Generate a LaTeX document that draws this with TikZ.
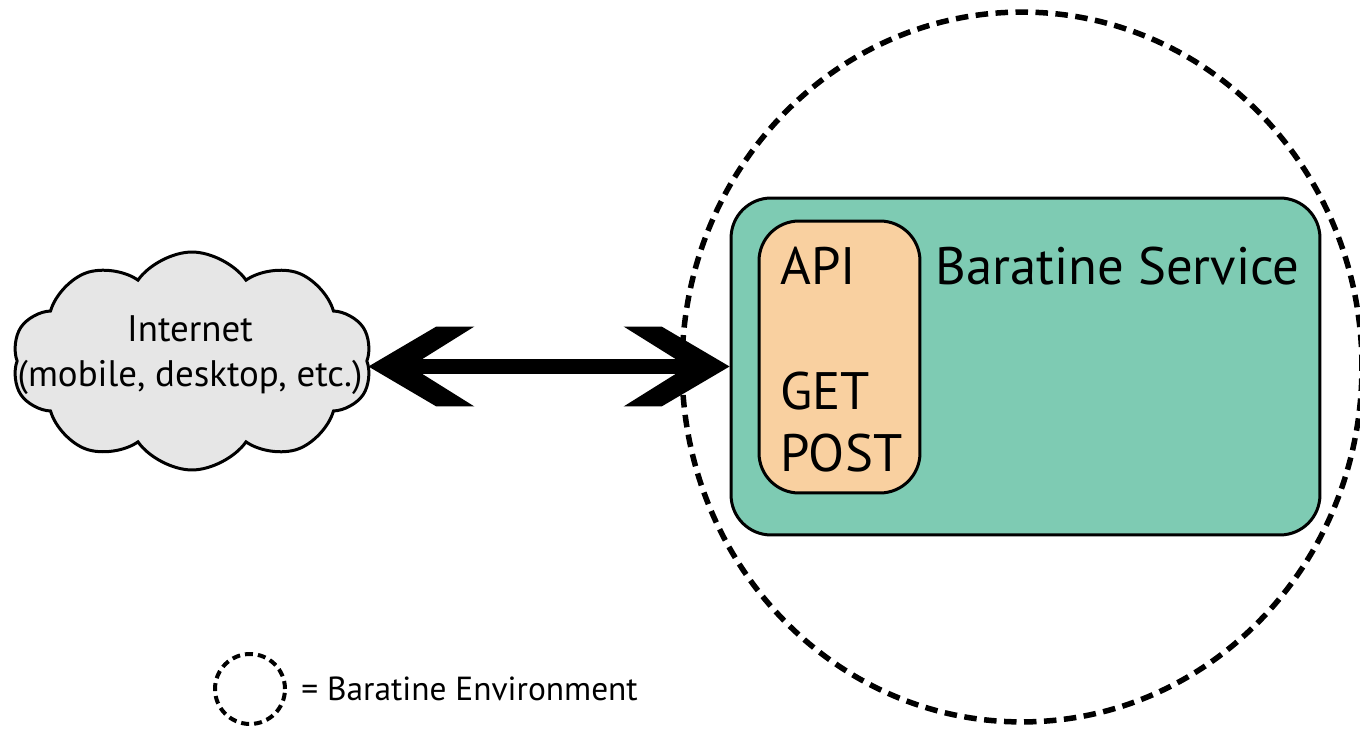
\documentclass[tikz,border=0pt]{standalone}
\usepackage{fontspec}
\setmainfont{PT Sans}
\usetikzlibrary{shapes.geometric,shapes.symbols,arrows.meta,positioning}
\definecolor{svcgreen}{HTML}{7ECBB3}
\definecolor{apiorange}{HTML}{F9D0A0}
\definecolor{cloudgray}{HTML}{E6E6E6}
% thick chevron head with flat back ends
\pgfdeclarearrow{
  name=Chevron,
  setup code={
    \pgfarrowssettipend{0cm}
    \pgfarrowssetlineend{-0.6cm}
    \pgfarrowssetbackend{-2.12cm}
    \pgfarrowshullpoint{0cm}{0cm}
    \pgfarrowsupperhullpoint{-2.12cm}{0.8cm}
  },
  drawing code={
    \pgfpathmoveto{\pgfpoint{0cm}{0cm}}
    \pgfpathlineto{\pgfpoint{-1.36cm}{0.8cm}}
    \pgfpathlineto{\pgfpoint{-2.12cm}{0.8cm}}
    \pgfpathlineto{\pgfpoint{-0.84cm}{0cm}}
    \pgfpathlineto{\pgfpoint{-2.12cm}{-0.8cm}}
    \pgfpathlineto{\pgfpoint{-1.36cm}{-0.8cm}}
    \pgfpathclose
    \pgfusepathqfill
  }
}
\begin{document}
\begin{tikzpicture}[x=0.02cm,y=-0.02cm,
    envring/.style={draw,ellipse,line width=0.11cm,dash pattern=on 0.25cm off 0.15cm,inner sep=0pt},
    keyring/.style={draw,circle,line width=0.08cm,dash pattern=on 0.16cm off 0.1cm,inner sep=0pt,minimum size=1.4cm},
    svcbox/.style={draw,fill=svcgreen,line width=0.06cm,rounded corners=0.8cm,inner sep=0pt},
    apibox/.style={draw,fill=apiorange,line width=0.06cm,rounded corners=0.8cm,inner sep=0pt},
    netcloud/.style={draw,fill=cloudgray,line width=0.06cm,cloud,cloud puffs=10,cloud puff arc=110,
      inner sep=0pt,minimum width=7.2cm,minimum height=4.36cm},
    cloudtext/.style={align=center,inner sep=0pt,font=\fontsize{21}{26}\selectfont},
    bigtext/.style={anchor=base west,inner sep=0pt,font=\fontsize{30}{36}\selectfont},
    keytext/.style={anchor=west,inner sep=0pt,font=\fontsize{19}{24}\selectfont},
    link/.style={line width=0.3cm,Chevron-Chevron}]
  \useasboundingbox (0,0) rectangle (1360,729);
  % environment ring
  \node[envring,minimum width=13.6cm,minimum height=14.2cm] (env) at (1022,367) {};
  % service and its api
  \node[svcbox,minimum width=11.78cm,minimum height=6.74cm] (svc) at (1025.5,366.5) {};
  \node[apibox,minimum width=3.22cm,minimum height=5.44cm] (api) at (839.5,357) {};
  \node[bigtext] (svcname) at (935,285) {Baratine Service};
  \node[bigtext] (apiname) at (780,285) {API};
  \node[bigtext] (get) at (780,410) {GET};
  \node[bigtext] (post) at (780,472) {POST};
  % client side
  \node[netcloud] (cloud) at (192,361) {};
  \node[cloudtext] (nettext) at (190,355) {Internet\\(mobile, desktop, etc.)};
  \draw[link] (svc.west -| cloud.east) -- (svc.west);
  % key
  \node[keyring] (key) at (250,689) {};
  \node[keytext,right=0.28cm of key] (keylabel) {= Baratine Environment};
\end{tikzpicture}
\end{document}
